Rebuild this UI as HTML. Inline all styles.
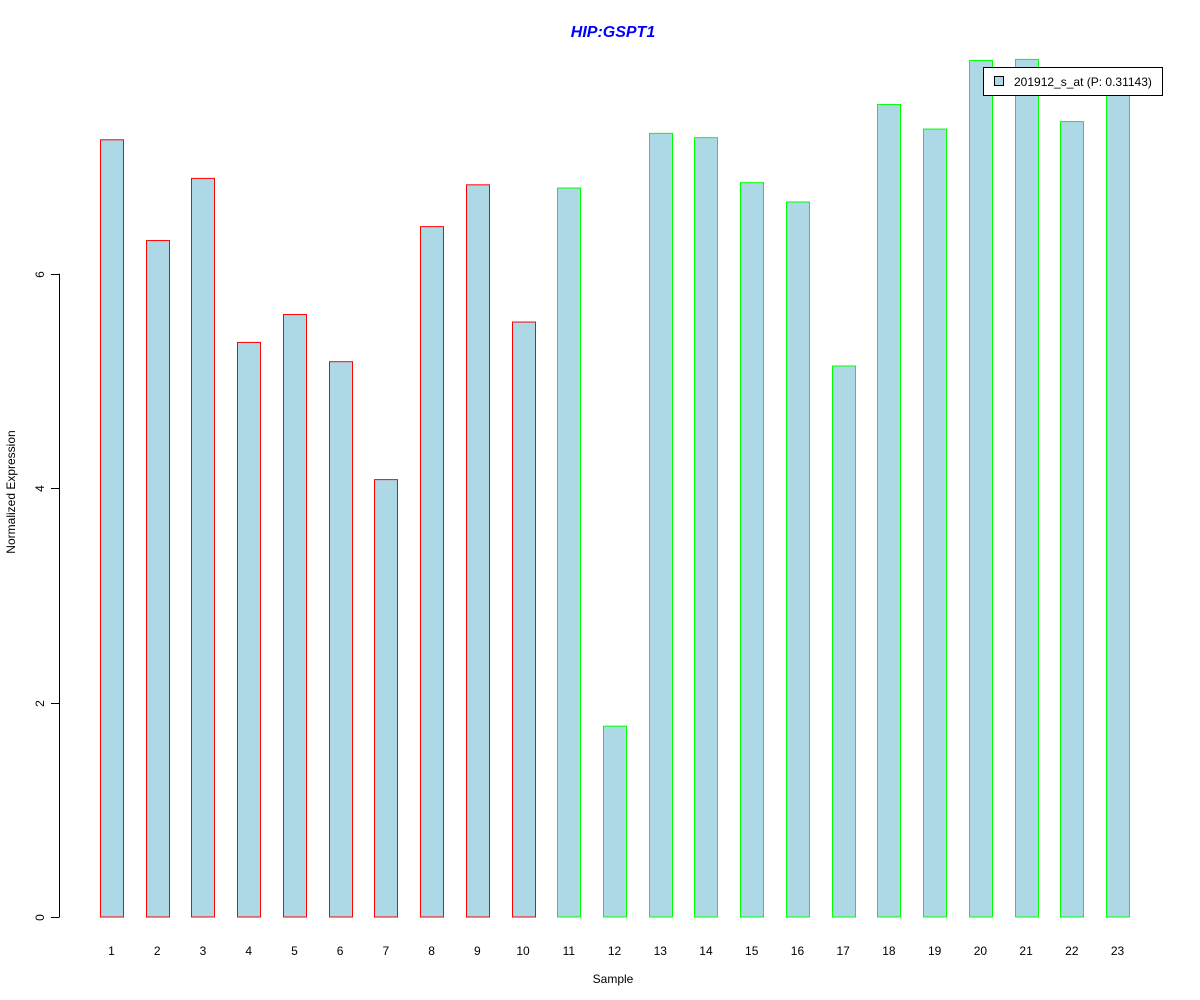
<!DOCTYPE html>
<html><head><meta charset="utf-8"><style>
body{margin:0;background:#fff}
svg{display:block;font-family:"Liberation Sans",Arial,sans-serif}
</style></head><body>
<svg id="chart" width="1200" height="1000">
<text x="613" y="37" text-anchor="middle" font-size="16" font-weight="bold" font-style="italic" fill="#0000ff">HIP:GSPT1</text>
<text x="613" y="983" text-anchor="middle" font-size="12">Sample</text>
<text transform="translate(15,492) rotate(-90)" text-anchor="middle" font-size="12">Normalized Expression</text>
<g id="yaxis"></g>
<g id="bars"></g>
<g id="xlabels"></g>
<g>
<rect x="983.5" y="67.5" width="179" height="28" fill="#fff" stroke="#000"/>
<rect x="994.5" y="76.5" width="9" height="9" fill="#add8e6" stroke="#000"/>
<text x="1014" y="86" font-size="12">201912_s_at (P: 0.31143)</text>
</g>
</svg>
<script>
const categories=["1","2","3","4","5","6","7","8","9","10","11","12","13","14","15","16","17","18","19","20","21","22","23"];
const values=[7.25,6.31,6.89,5.36,5.62,5.18,4.08,6.44,6.83,5.55,6.80,1.78,7.31,7.27,6.85,6.67,5.14,7.58,7.35,7.99,8.00,7.42,7.70];
const groups=["a","a","a","a","a","a","a","a","a","a","b","b","b","b","b","b","b","b","b","b","b","b","b"];
const yTicks=[0,2,4,6];
const NS="http://www.w3.org/2000/svg";
const y0=917,pxPerUnit=107.2;
function yScale(v){return y0-v*pxPerUnit;}
function xScale(i){return 111.5+i*45.73;}
const ya=document.getElementById('yaxis');
let ln=document.createElementNS(NS,'line');
ln.setAttribute('x1',59.5);ln.setAttribute('x2',59.5);ln.setAttribute('y1',yScale(0));ln.setAttribute('y2',yScale(6));ln.setAttribute('stroke','#000');


ya.appendChild(ln);
yTicks.forEach(t=>{
 const y=Math.round(yScale(t))+0.5;
 const tk=document.createElementNS(NS,'line');
 tk.setAttribute('x1',51);tk.setAttribute('x2',59.5);tk.setAttribute('y1',y);tk.setAttribute('y2',y);tk.setAttribute('stroke','#000');
 
 
 ya.appendChild(tk);
 const tx=document.createElementNS(NS,'text');
 tx.setAttribute('transform','translate(44,'+y+') rotate(-90)');
 tx.setAttribute('text-anchor','middle');tx.setAttribute('font-size','12');
 tx.textContent=String(t);
 
 
 ya.appendChild(tx);
});
const bg=document.getElementById('bars'),xl=document.getElementById('xlabels');
values.forEach((v,i)=>{
 const cx=xScale(i);
 const r=document.createElementNS(NS,'rect');
 r.setAttribute('x',Math.round(cx-11.5)+0.5);r.setAttribute('width',23);
 r.setAttribute('y',yScale(v));r.setAttribute('height',y0-yScale(v));
 r.setAttribute('fill','#add8e6');r.setAttribute('stroke',groups[i]==='a'?'#ff0000':'#00ff00');
 
 
 bg.appendChild(r);
 const t=document.createElementNS(NS,'text');
 t.setAttribute('x',cx);t.setAttribute('y',955);t.setAttribute('text-anchor','middle');t.setAttribute('font-size','12');
 t.textContent=categories[i];
 
 
 xl.appendChild(t);
});
</script>
</body></html>
